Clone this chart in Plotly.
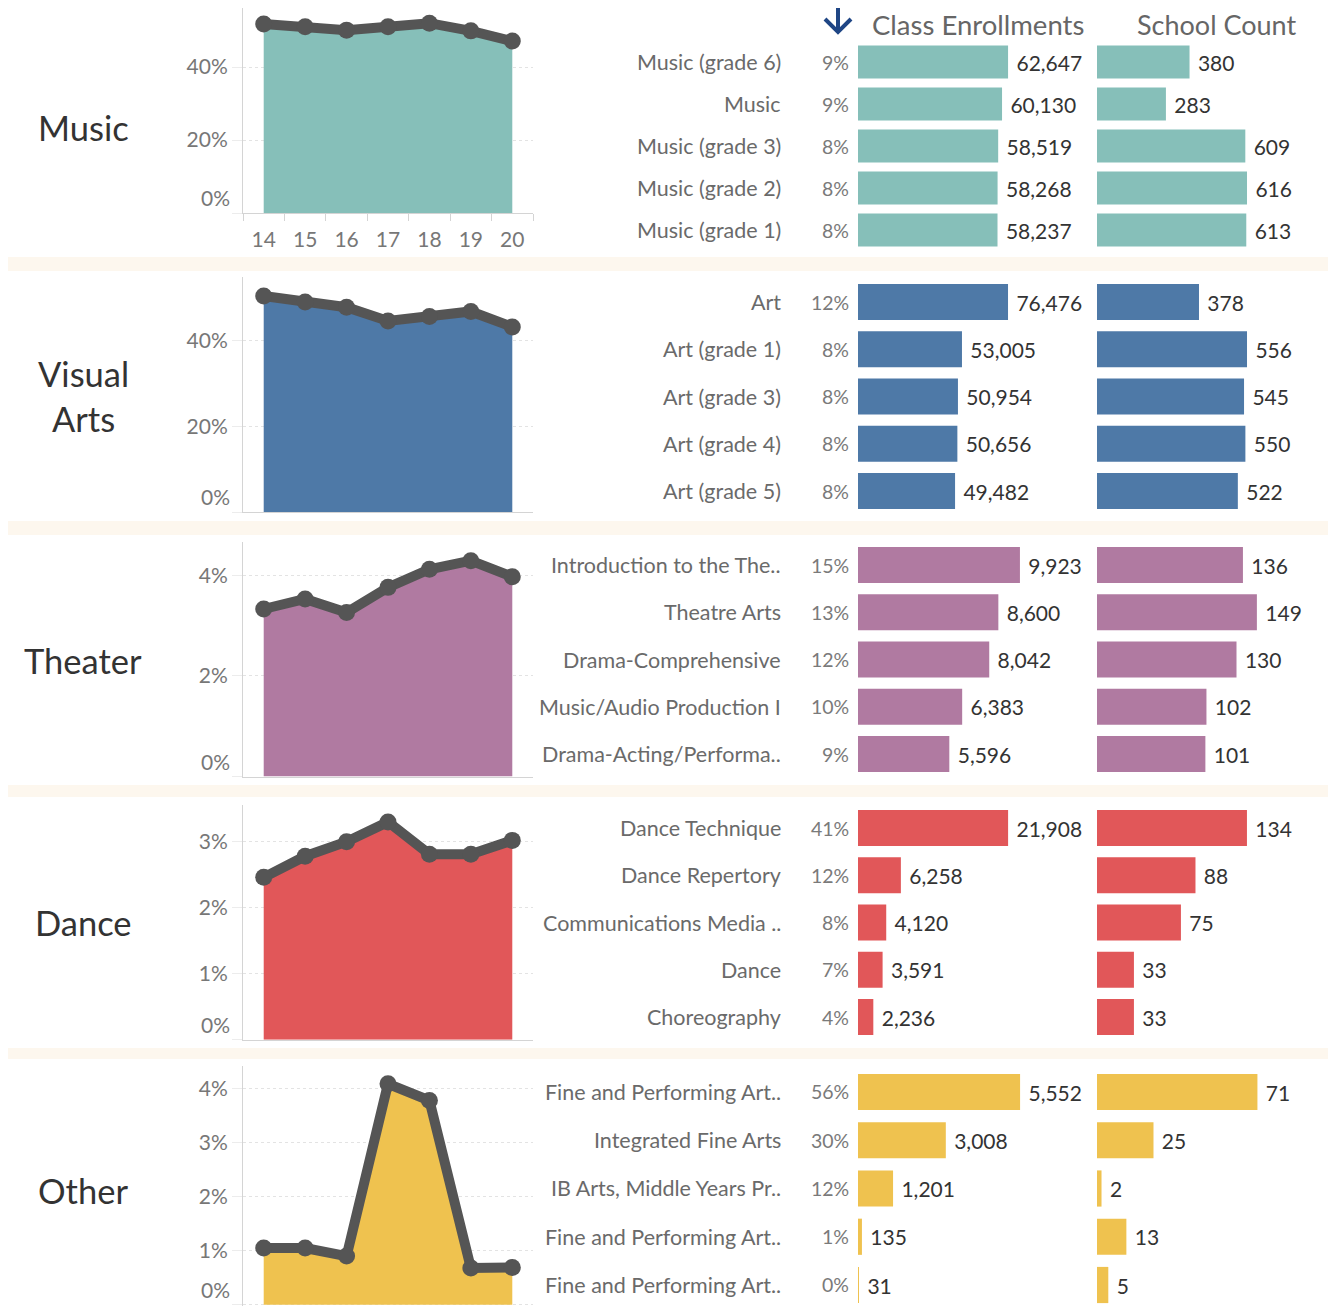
import plotly.graph_objects as go

# ---------------- data ----------------
YEARS = [14, 15, 16, 17, 18, 19, 20]

CATEGORIES = ["Music", "Visual<br>Arts", "Theater", "Dance", "Other"]

MUSIC_TREND = [0.518, 0.510, 0.501, 0.510, 0.520, 0.499, 0.471]
VISUAL_TREND = [0.504, 0.490, 0.478, 0.446, 0.456, 0.468, 0.432]
THEATER_TREND = [0.0333, 0.0353, 0.0326, 0.0376, 0.0412, 0.0429, 0.0397]
DANCE_TREND = [0.0246, 0.0278, 0.0300, 0.0330, 0.0281, 0.0281, 0.0302]
OTHER_TREND = [0.0105, 0.0105, 0.0090, 0.0409, 0.0378, 0.0068, 0.0069]

MUSIC_COURSES = ["Music (grade 6)", "Music", "Music (grade 3)", "Music (grade 2)", "Music (grade 1)"]
MUSIC_ENROLL = [62647, 60130, 58519, 58268, 58237]
MUSIC_SCHOOLS = [380, 283, 609, 616, 613]
MUSIC_PCT = ["9%", "9%", "8%", "8%", "8%"]

VISUAL_COURSES = ["Art", "Art (grade 1)", "Art (grade 3)", "Art (grade 4)", "Art (grade 5)"]
VISUAL_ENROLL = [76476, 53005, 50954, 50656, 49482]
VISUAL_SCHOOLS = [378, 556, 545, 550, 522]
VISUAL_PCT = ["12%", "8%", "8%", "8%", "8%"]

THEATER_COURSES = ["Introduction to the The..", "Theatre Arts", "Drama-Comprehensive",
                   "Music/Audio Production I", "Drama-Acting/Performa.."]
THEATER_ENROLL = [9923, 8600, 8042, 6383, 5596]
THEATER_SCHOOLS = [136, 149, 130, 102, 101]
THEATER_PCT = ["15%", "13%", "12%", "10%", "9%"]

DANCE_COURSES = ["Dance Technique", "Dance Repertory", "Communications Media ..", "Dance", "Choreography"]
DANCE_ENROLL = [21908, 6258, 4120, 3591, 2236]
DANCE_SCHOOLS = [134, 88, 75, 33, 33]
DANCE_PCT = ["41%", "12%", "8%", "7%", "4%"]

OTHER_COURSES = ["Fine and Performing Art..", "Integrated Fine Arts", "IB Arts, Middle Years Pr..",
                 "Fine and Performing Art..", "Fine and Performing Art.."]
OTHER_ENROLL = [5552, 3008, 1201, 135, 31]
OTHER_SCHOOLS = [71, 25, 2, 13, 5]
OTHER_PCT = ["56%", "30%", "12%", "1%", "0%"]

TRENDS = [MUSIC_TREND, VISUAL_TREND, THEATER_TREND, DANCE_TREND, OTHER_TREND]
COURSES = [MUSIC_COURSES, VISUAL_COURSES, THEATER_COURSES, DANCE_COURSES, OTHER_COURSES]
ENROLLS = [MUSIC_ENROLL, VISUAL_ENROLL, THEATER_ENROLL, DANCE_ENROLL, OTHER_ENROLL]
SCHOOLS = [MUSIC_SCHOOLS, VISUAL_SCHOOLS, THEATER_SCHOOLS, DANCE_SCHOOLS, OTHER_SCHOOLS]
PCTS = [MUSIC_PCT, VISUAL_PCT, THEATER_PCT, DANCE_PCT, OTHER_PCT]

Y_TICKS = [[0, 0.2, 0.4], [0, 0.2, 0.4], [0, 0.02, 0.04], [0, 0.01, 0.02, 0.03],
           [0, 0.01, 0.02, 0.03, 0.04]]

# ---------------- layout / style config ----------------
OFF = 8                      # page body margin
PAGE_W, PAGE_H = 1336, 1306
W, H = PAGE_W - OFF, PAGE_H - OFF
COLORS = ["#86bfb9", "#4e79a7", "#b07aa1", "#e15759", "#efc24f"]
LINE_COLOR = "#555555"
FONT = "Lato, 'Open Sans', sans-serif"

# area chart geometry (page pixels): top, baseline, px per unit
AREA_TOP = [6, 277, 541.5, 805, 1066]
AREA_BASE = [213, 512, 776.5, 1039.7, 1307.3]
AREA_SCALE = [365.0, 428.5, 5030.0, 6600.0, 5460.0]
AREA_X = (243, 533)

# bars geometry (page pixels)
BAR_C0 = [62, 302, 565, 828, 1092]
BAR_STEP = [42, 47.25, 47.25, 47.25, 48.25]
BAR_WIDTH = [0.78, 0.76, 0.76, 0.76, 0.75]
ENR_X = (858, 1093)
SCH_X = (1097, 1332)
ENR_MAX = [98100, 119800, 14400, 34300, 8050]
SCH_MAX = [965, 871, 219, 210, 104]

LABEL_RIGHT = 783
PCT_RIGHT = 851
ZERO_LABEL_RIGHT = 232
CAT_X = 83
BANDS = [(257, 271), (521, 535), (785, 797), (1048, 1059)]
ROW_MID = [128, 396, 660, 922, 1190]
NBSP = "\u00a0"


def px_x(p):
    return (p - OFF) / W


def px_y(p):
    return 1 - (p - OFF) / H


def ax_name(n, kind):
    return kind if n == 1 else f"{kind}{n}"


def layout_key(n, kind):
    return f"{kind}axis" if n == 1 else f"{kind}axis{n}"


fig = go.Figure()
layout = {}
annotations = []

for i in range(5):
    na, ne, ns = 3 * i + 1, 3 * i + 2, 3 * i + 3
    color = COLORS[i]

    # ---- area + line ----
    fig.add_trace(go.Scatter(
        x=YEARS, y=TRENDS[i], fill="tozeroy", mode="none", fillcolor=color,
        xaxis=ax_name(na, "x"), yaxis=ax_name(na, "y"), hoverinfo="skip"))
    fig.add_trace(go.Scatter(
        x=YEARS, y=TRENDS[i], mode="lines+markers",
        line=dict(color=LINE_COLOR, width=10),
        marker=dict(size=17, color=LINE_COLOR),
        xaxis=ax_name(na, "x"), yaxis=ax_name(na, "y"), cliponaxis=False))

    base, k = AREA_BASE[i], AREA_SCALE[i]
    top = max(AREA_TOP[i], OFF)
    bottom_px = min(base, PAGE_H)
    ymax = (base - top) / k
    ymin = -(base - bottom_px) / k
    xa = dict(
        domain=[px_x(AREA_X[0]), px_x(AREA_X[1])], range=[13.5, 20.5],
        anchor=ax_name(na, "y"), showgrid=False, zeroline=False,
        showline=True, linecolor="#d4d4d4", linewidth=1,
        tickvals=YEARS, ticktext=[str(y) for y in YEARS],
        tickfont=dict(size=21, color="#777777"),
        fixedrange=True)
    if i == 0:
        xa.update(showticklabels=True, ticks="outside", ticklen=8,
                  tickcolor="rgba(0,0,0,0)",
                  minor=dict(tick0=13.5, dtick=1, ticks="outside", ticklen=7,
                             tickcolor="#d4d4d4", showgrid=False))
    else:
        xa.update(showticklabels=False, ticks="")
    layout[layout_key(na, "x")] = xa
    tick_text = ["" if v == 0 else f"{round(v * 100)}%" for v in Y_TICKS[i]]
    layout[layout_key(na, "y")] = dict(
        domain=[px_y(bottom_px), px_y(top)], range=[ymin, ymax],
        anchor=ax_name(na, "x"), tickvals=Y_TICKS[i], ticktext=tick_text,
        showgrid=True, gridcolor="#e3e3e3", griddash="dot", gridwidth=1,
        zeroline=False, showline=True, linecolor="#d4d4d4",
        ticks="outside", ticklen=10, tickcolor="#ececec",
        tickfont=dict(size=21, color="#777777"), fixedrange=True)
    # bottom "0%" label sits just above the baseline
    annotations.append(dict(
        xref="paper", yref=ax_name(na, "y"), x=px_x(ZERO_LABEL_RIGHT), y=0,
        xanchor="right", yanchor="bottom", yshift=1, text="0%", showarrow=False,
        font=dict(size=21, color="#777777", family=FONT)))

    # ---- bars ----
    ranks = list(range(len(COURSES[i])))
    step = BAR_STEP[i]
    btop = BAR_C0[i] - step / 2
    bbot = min(btop + 5 * step, PAGE_H)
    yr = [(bbot - btop) / step - 0.5, -0.5]
    bdom = [px_y(bbot), px_y(btop)]

    for n, vals, xr, vmax in ((ne, ENROLLS[i], ENR_X, ENR_MAX[i]),
                              (ns, SCHOOLS[i], SCH_X, SCH_MAX[i])):
        fig.add_trace(go.Bar(
            x=vals, y=ranks, orientation="h", marker=dict(color=color, line=dict(width=0)),
            width=BAR_WIDTH[i], text=[f"{NBSP}{v:,}" for v in vals], textposition="outside",
            textfont=dict(size=21, color="#333333", family=FONT), constraintext="none",
            cliponaxis=False, xaxis=ax_name(n, "x"), yaxis=ax_name(n, "y"),
            hoverinfo="skip"))
        layout[layout_key(n, "x")] = dict(
            domain=[px_x(xr[0]), px_x(xr[1])], range=[0, vmax],
            anchor=ax_name(n, "y"), tickvals=[0], showticklabels=False,
            showgrid=True, gridcolor="#c8c8c8", griddash="dot", gridwidth=1,
            zeroline=False, showline=False, ticks="", fixedrange=True)
        layout[layout_key(n, "y")] = dict(
            domain=bdom, range=yr, anchor=ax_name(n, "x"),
            showticklabels=False, showgrid=False, zeroline=False,
            showline=False, ticks="", fixedrange=True)

    # ---- course labels & percentages ----
    for r, (lab, pct) in enumerate(zip(COURSES[i], PCTS[i])):
        annotations.append(dict(
            xref="paper", yref=ax_name(ne, "y"), x=px_x(LABEL_RIGHT), y=r,
            xanchor="right", yanchor="middle", text=lab, showarrow=False,
            font=dict(size=21.5, color="#6a6a6a", family=FONT)))
        annotations.append(dict(
            xref="paper", yref=ax_name(ne, "y"), x=px_x(PCT_RIGHT), y=r,
            xanchor="right", yanchor="middle", text=pct, showarrow=False,
            font=dict(size=19.5, color="#7a7a7a", family=FONT)))

    # ---- category label ----
    annotations.append(dict(
        xref="paper", yref="paper", x=px_x(CAT_X), y=px_y(ROW_MID[i]),
        xanchor="center", yanchor="middle", text=CATEGORIES[i], showarrow=False,
        font=dict(size=34.5, color="#333333", family=FONT)))

# headers
annotations.append(dict(xref="paper", yref="paper", x=px_x(978), y=px_y(25),
                        xanchor="center", yanchor="middle", text="Class Enrollments",
                        showarrow=False, font=dict(size=27.5, color="#666666", family=FONT)))
annotations.append(dict(xref="paper", yref="paper", x=px_x(1216), y=px_y(25),
                        xanchor="center", yanchor="middle", text="School Count",
                        showarrow=False, font=dict(size=27, color="#666666", family=FONT)))

shapes = []
for (a, b) in BANDS:
    shapes.append(dict(type="rect", xref="paper", yref="paper", x0=px_x(0), x1=px_x(PAGE_W),
                       y0=px_y(b), y1=px_y(a), fillcolor="#fdf7ee", line=dict(width=0),
                       layer="below"))
# sort arrow
ARROW_COLOR = "#1f4685"
shapes.append(dict(type="line", xref="paper", yref="paper", x0=px_x(838), x1=px_x(838),
                   y0=px_y(0), y1=px_y(31), line=dict(color=ARROW_COLOR, width=4)))
shapes.append(dict(type="path", xref="paper", yref="paper",
                   path=f"M {px_x(825)},{px_y(19)} L {px_x(838)},{px_y(32)} L {px_x(851)},{px_y(19)}",
                   line=dict(color=ARROW_COLOR, width=4)))

fig.update_layout(
    width=W, height=H, margin=dict(l=0, r=0, t=0, b=0),
    paper_bgcolor="white", plot_bgcolor="rgba(0,0,0,0)",
    showlegend=False, font=dict(family=FONT),
    annotations=annotations, shapes=shapes, **layout)

fig.write_html("out.html")
